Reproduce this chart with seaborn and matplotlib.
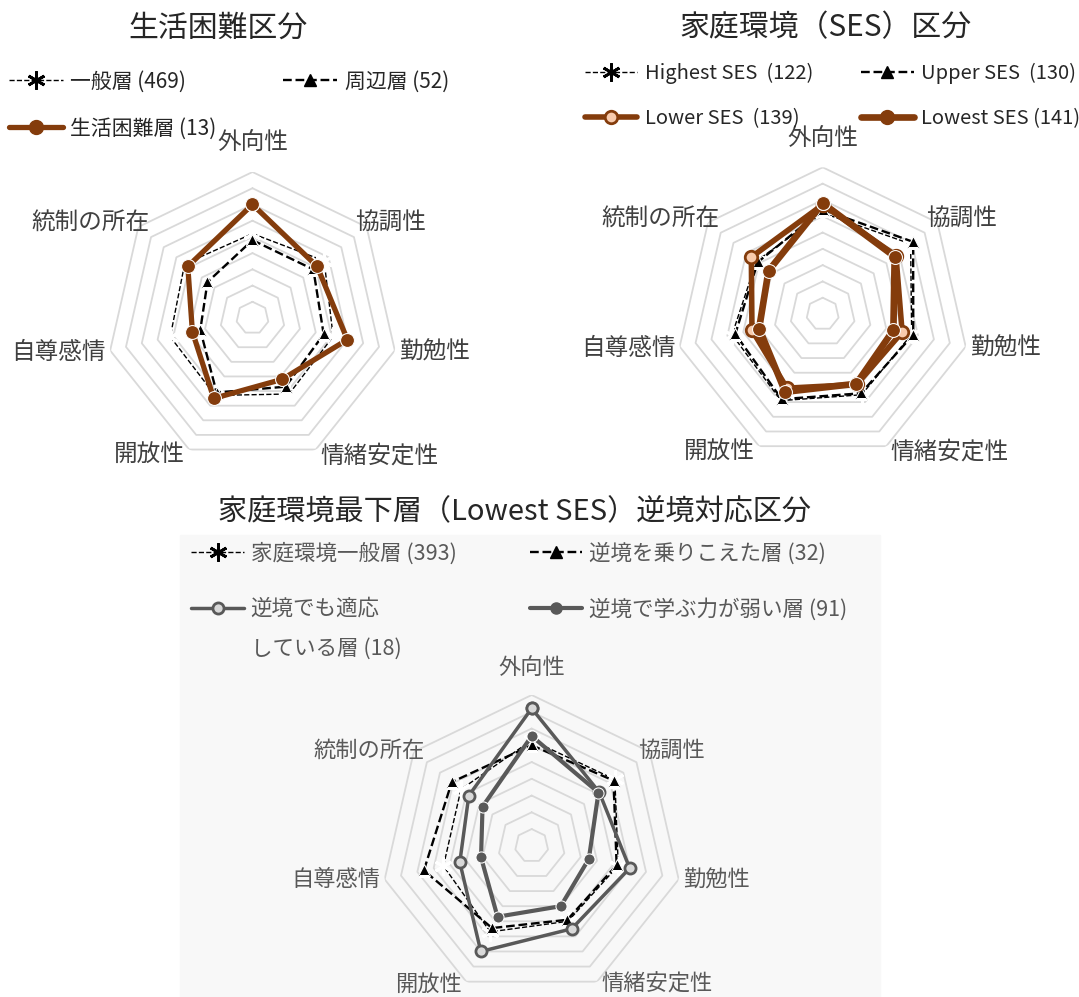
import numpy as np
import pandas as pd
import matplotlib
matplotlib.use("Agg")
import matplotlib.pyplot as plt
from matplotlib.lines import Line2D
from matplotlib.patches import Rectangle
import seaborn as sns

# Data (values in grid-ring units)
axes_labels = ["外向性", "協調性", "勤勉性", "情緒安定性", "開放性", "自尊感情", "統制の所在"]

# chart 1: 生活困難区分
c1_names = ["一般層 (469)", "周辺層 (52)", "生活困難層 (13)"]
c1_general = [5.2, 5.65, 5.1, 5.2, 5.3, 5.2, 5.35]
c1_border = [4.8, 4.8, 4.5, 4.7, 5.1, 3.3, 3.55]
c1_hard = [7.0, 5.1, 6.0, 4.2, 5.5, 3.8, 5.1]

# chart 2: 家庭環境（SES）区分
c2_names = ["Highest SES  (122)", "Upper SES  (130)", "Lower SES  (139)", "Lowest SES (141)"]
c2_highest = [6.2, 6.9, 5.6, 5.5, 5.9, 5.7, 5.2]
c2_upper = [6.4, 7.1, 5.7, 5.4, 5.8, 5.5, 5.1]
c2_lower = [6.7, 5.75, 5.0, 4.8, 5.05, 4.45, 5.6]
c2_lowest = [6.8, 5.65, 4.45, 4.75, 5.3, 4.0, 4.25]

# chart 3: 家庭環境最下層（Lowest SES）逆境対応区分
c3_names = ["家庭環境一般層 (393)", "逆境を乗りこえた層 (32)",
            "逆境でも適応", "逆境で学ぶ力が弱い層 (91)"]
c3_name_cont = "している層 (18)"
c3_general = [6.3, 6.35, 5.3, 5.0, 5.7, 5.4, 5.4]
c3_overcome = [6.0, 6.25, 5.2, 4.9, 5.45, 6.6, 6.1]
c3_adapt = [8.2, 5.15, 6.0, 5.5, 7.0, 4.4, 4.8]
c3_weak = [6.55, 5.1, 3.5, 4.0, 4.7, 3.1, 3.75]

BROWN = "#843C0C"
GRAY = "#595959"
RING = "#D9D9D9"
JP = ["Noto Sans CJK JP", "DejaVu Sans"]

sns.set_theme(style="white")
plt.rcParams["font.family"] = JP

fig = plt.figure(figsize=(10.79, 9.97), dpi=100)
# faint background of the bottom panel
fig.patches.append(Rectangle((180 / 1079, 0), 700 / 1079, 462 / 997,
                             transform=fig.transFigure, color="#F8F8F8", zorder=-5))

n = len(axes_labels)
theta = np.linspace(0, 2 * np.pi, n, endpoint=False)
theta_closed = np.append(theta, 2 * np.pi)


def make_radar(rect, label_color, fs, dy_fac=5, top_pad=12.5):
    ax = fig.add_axes(rect, projection="polar")
    ax.set_theta_zero_location("N")
    ax.set_theta_direction(-1)
    ax.set_ylim(0, 9)
    ax.grid(False)
    ax.spines["polar"].set_visible(False)
    ax.set_xticks([])
    ax.set_yticks([])
    ax.patch.set_alpha(0)
    for r in range(1, 10):
        ax.plot(theta_closed, [r] * (n + 1), color=RING, lw=1.3, zorder=1)
    # category labels anchored at the outer ring vertices, Excel style
    for t, lab in zip(theta, axes_labels):
        s, c = np.sin(t), np.cos(t)
        if abs(s) < 0.1:
            ha, dx, dy = "center", 0, fs / 2 + top_pad
        else:
            ha = "left" if s > 0 else "right"
            dx = np.sign(s) * (-8 if c > 0.5 else 3)
            dy = dy_fac * c
        ax.annotate(lab, xy=(t, 9), xytext=(dx, dy), textcoords="offset points",
                    ha=ha, va="center", fontsize=fs, color=label_color,
                    annotation_clip=False)
    return ax


def series(ax, vals, **kw):
    df = pd.DataFrame({"theta": theta_closed, "val": list(vals) + [vals[0]]})
    sns.lineplot(data=df, x="theta", y="val", ax=ax, sort=False,
                 errorbar=None, estimator=None, **kw)
    ax.set_xlabel("")
    ax.set_ylabel("")


star = (6, 2, 0)
st_general = dict(color="black", linestyle="--", lw=1, marker=star, ms=13, mew=2)
st_border = dict(color="black", linestyle="--", lw=1.7, marker="^", ms=8)


def handle(st):
    kw = dict(st)
    ls = kw.pop("linestyle", "-")
    return Line2D([], [], ls=ls, **kw)


def row_legend(handles, labels, x, y, fs, colspace, labspace, hlen=2.6, hpad=0.35):
    # ncol=2 fills column-wise, so reorder to get rows
    order = [0, 2, 1, 3][:len(handles)]
    return fig.legend([handles[i] for i in order], [labels[i] for i in order],
                      loc="upper left", bbox_to_anchor=(x / 1079, 1 - y / 997), ncol=2,
                      frameon=False, fontsize=fs, handlelength=hlen, handletextpad=hpad,
                      columnspacing=colspace, labelspacing=labspace, borderpad=0.4)


# ---- chart 1
ax1 = make_radar([0.0987, 0.5346, 0.2706, 0.2929], "#404040", 17)
st_hard = dict(color=BROWN, lw=3.8, marker="o", ms=10)
series(ax1, c1_general, zorder=3, **st_general)
series(ax1, c1_border, zorder=3, **st_border)
series(ax1, c1_hard, zorder=4, **st_hard)
fig.text(218 / 1079, 1 - 28 / 997, "生活困難区分", fontsize=21.5, ha="center", va="center")
row_legend([handle(st_general), handle(st_border), handle(st_hard)], c1_names,
           -10, 52, 15, 3.2, 1.2)

# ---- chart 2
ax2 = make_radar([0.6265, 0.5379, 0.2719, 0.2943], "#404040", 17)
st_lower = dict(color=BROWN, lw=4, marker="o", ms=9, mfc="#F8CBAD", mec=BROWN, mew=2)
st_lowest = dict(color=BROWN, lw=4.8, marker="o", ms=10)
series(ax2, c2_highest, zorder=3, **st_general)
series(ax2, c2_upper, zorder=3, **st_border)
series(ax2, c2_lower, zorder=4, **st_lower)
series(ax2, c2_lowest, zorder=5, **st_lowest)
fig.text(825 / 1079, 1 - 28 / 997, "家庭環境（SES）区分", fontsize=21.5, ha="center", va="center")
row_legend([handle(st_general), handle(st_border), handle(st_lower), handle(st_lowest)],
           c2_names, 567, 45, 14.5, 2.4, 1.2)

# ---- chart 3
ax3 = make_radar([0.353, 0.0004, 0.2795, 0.3025], GRAY, 16, dy_fac=2, top_pad=12)
st_adapt = dict(color=GRAY, lw=2.5, marker="o", ms=8, mfc="#D9D9D9", mec=GRAY, mew=2)
st_weak = dict(color=GRAY, lw=3, marker="o", ms=8)
series(ax3, c3_general, zorder=3, **st_general)
series(ax3, c3_overcome, zorder=3, **st_border)
series(ax3, c3_adapt, zorder=4, **st_adapt)
series(ax3, c3_weak, zorder=4, **st_weak)
fig.text(515 / 1079, 1 - 512 / 997, "家庭環境最下層（Lowest SES）逆境対応区分", fontsize=21,
         ha="center", va="center")
leg3 = row_legend([handle(st_general), handle(st_border), handle(st_adapt), handle(st_weak)],
                  c3_names, 172, 523, 15.5, 3.4, 1.55, hlen=2.45, hpad=0.3)
for t in leg3.get_texts():
    t.set_color(GRAY)

# second line of the wrapped legend label, aligned under its first line
fig.canvas.draw()
bb = leg3.get_texts()[1].get_window_extent()
fig.text(bb.x0 / 1079, (bb.y0 - 40) / 997, c3_name_cont, fontsize=15.5, color=GRAY,
         ha="left", va="bottom")

fig.savefig("out.png", dpi=100)
